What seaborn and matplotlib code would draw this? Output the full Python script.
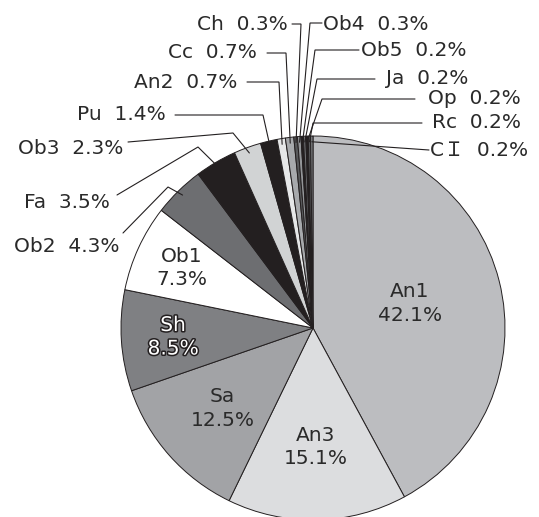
import numpy as np
import matplotlib
matplotlib.use("Agg")
import matplotlib.pyplot as plt
import matplotlib.patheffects as pe
import seaborn as sns

# Composition of the sample, clockwise from twelve o'clock
categories = ["An1", "An3", "Sa", "Sh", "Ob1", "Ob2", "Fa", "Ob3", "Pu",
              "An2", "Cc", "Ch", "Ob4", "Ob5", "Ja", "Op", "Rc", "CＩ"]
shares = [42.1, 15.1, 12.5, 8.5, 7.3, 4.3, 3.5, 2.3, 1.4,
          0.7, 0.7, 0.3, 0.3, 0.2, 0.2, 0.2, 0.2, 0.2]
fills = ["#bcbdc0", "#dcdddf", "#a2a3a6", "#7f8083", "#ffffff", "#6d6e71",
         "#231f20", "#d1d3d4", "#231f20", "#e6e7e8", "#a7a9ac", "#58595b",
         "#939598", "#231f20", "#6d6e71", "#231f20", "#58595b", "#808285"]

# Large slices are labelled inside, at a fraction of the radius
inner_labels = ["An1", "An3", "Sa", "Sh", "Ob1"]
inner_radius = [0.52, 0.62, 0.63, 0.73, 0.75]

# Small slices get an outside label with an elbow leader.
# (label anchor x, y, alignment, [elbow points]) in pixel space, y downwards
outer_layout = {
    "Ob2": (119, 247, "right", [(123, 233), (168, 187)]),
    "Fa":  (110, 202, "right", [(117, 195), (198, 147)]),
    "Ob3": (123, 148, "right", [(128, 142), (233, 133)]),
    "Pu":  (166, 115, "right", [(175, 115), (263, 115)]),
    "An2": (237, 82, "right", [(247, 82), (279, 82)]),
    "Cc":  (257, 53, "right", [(267, 53), (286, 53)]),
    "Ch":  (288, 25, "right", [(292, 24), (301, 24)]),
    "Ob4": (323, 24, "left", [(322, 23), (310, 23)]),
    "Ob5": (361, 50, "left", [(359, 50), (315, 50)]),
    "Ja":  (386, 79, "left", [(375, 79), (317, 79)]),
    "Op":  (428, 99, "left", [(415, 99), (322, 99)]),
    "Rc":  (432, 123, "left", [(422, 123), (313, 123)]),
    "CＩ": (430, 151, "left", [(429, 150)]),
}

W, H = 539, 517
CX, CY, R = 313, 328, 192
INK = "#231f20"

sns.set_style("white")
plt.rcParams["font.family"] = ["DejaVu Sans", "Noto Sans CJK KR"]
palette = sns.color_palette(fills)


def to_data(x, y):
    return x, H - y


fig = plt.figure(figsize=(W / 100, H / 100), dpi=100)
ax = fig.add_axes([0, 0, 1, 1])

ax.pie(shares, colors=palette, startangle=90, counterclock=False,
       center=to_data(CX, CY), radius=R,
       wedgeprops=dict(edgecolor=INK, linewidth=0.7))
ax.set_xlim(0, W)
ax.set_ylim(0, H)
ax.set_aspect("equal")
ax.axis("off")

# Mid angle (degrees, counter-clockwise from +x) of every slice
total = float(np.sum(shares))
cum = np.cumsum([0.0] + list(shares))
mid_angle = {c: 90.0 - 360.0 * (cum[i] + shares[i] / 2.0) / total
             for i, c in enumerate(categories)}


def on_slice(cat, frac):
    a = np.deg2rad(mid_angle[cat])
    return CX + frac * R * np.cos(a), CY - frac * R * np.sin(a)


text_kw = dict(fontsize=14.5, color="#2a2a2a")

for cat, frac in zip(inner_labels, inner_radius):
    i = categories.index(cat)
    x, y = on_slice(cat, frac)
    t = ax.text(*to_data(x, y), f"{cat}\n{shares[i]:.1f}%", ha="center",
                va="center", linespacing=1.3, **text_kw)
    if cat == "Sh":
        t.set_color("white")
        t.set_path_effects([pe.withStroke(linewidth=2.2, foreground=INK)])

for cat, (lx, ly, ha, elbows) in outer_layout.items():
    i = categories.index(cat)
    ax.text(*to_data(lx, ly), f"{cat}  {shares[i]:.1f}%", ha=ha,
            va="center", **text_kw)
    pts = list(elbows) + [on_slice(cat, 0.97)]
    xs = [p[0] for p in pts]
    ys = [H - p[1] for p in pts]
    ax.plot(xs, ys, color=INK, linewidth=0.8, solid_joinstyle="miter")

fig.savefig("out.png", dpi=100)
